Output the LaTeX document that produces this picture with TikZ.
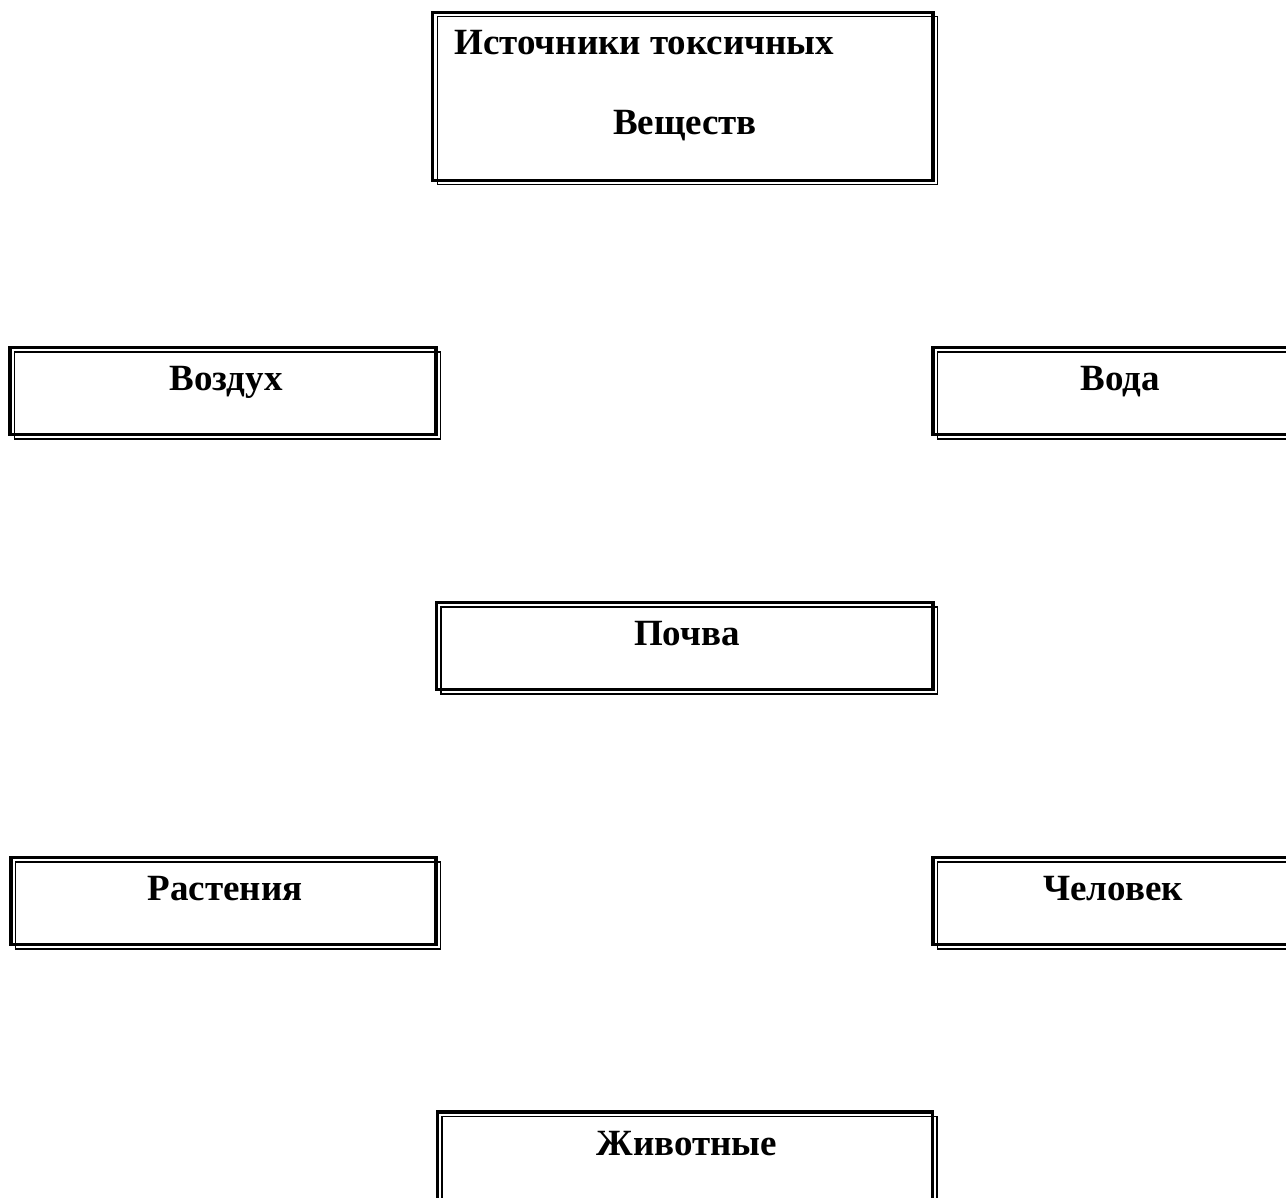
\documentclass[tikz,border=0pt]{standalone}
\usepackage{fontspec}
\setmainfont{Liberation Serif}
\begin{document}
\begin{tikzpicture}[x=0.5pt,y=-0.5pt,
		dick/.style={line width=1.9pt},
		duenn/.style={line width=0.85pt},
		schrift/.style={font=\fontsize{18.5}{22}\selectfont\bfseries,inner sep=0pt}]
		\clip (0,0) rectangle (1286,1198);
		% Источники
		\draw[dick] (432.5,12.5) rectangle (933,180.5);
		\draw[duenn] (437.5,16.5) rectangle (937.5,184.5);
		\node[schrift,anchor=base west] (istochniki) at (454,55) {Источники токсичных};
		\node[schrift,anchor=base] (veshchestv) at (685,135) {Веществ};
		% Воздух
		\draw[dick] (10,347.5) rectangle (436,434.5);
		\draw[duenn] (14.5,352) rectangle (440.5,439);
		\node[schrift,anchor=base] (vozdukh) at (226,391) {Воздух};
		% Вода
		\draw[dick] (933,347.5) rectangle (1359,434.5);
		\draw[duenn] (937.5,352) rectangle (1363.5,439);
		\node[schrift,anchor=base] (voda) at (1120,391) {Вода};
		% Почва
		\draw[dick] (436.5,602.5) rectangle (933,689.5);
		\draw[duenn] (441,607) rectangle (937.5,694);
		\node[schrift,anchor=base] (pochva) at (687,645) {Почва};
		% Растения
		\draw[dick] (11,857.5) rectangle (436,944.5);
		\draw[duenn] (15.5,862) rectangle (440.5,949);
		\node[schrift,anchor=base] (rasteniya) at (225,900) {Растения};
		% Человек
		\draw[dick] (933,857.5) rectangle (1359,944.5);
		\draw[duenn] (937.5,862) rectangle (1363.5,949);
		\node[schrift,anchor=base] (chelovek) at (1113,900) {Человек};
		% Животные
		\draw[dick] (437.5,1112) rectangle (932.5,1205);
		\draw[duenn] (442,1116.5) rectangle (937,1210);
		\node[schrift,anchor=base] (zhivotnye) at (687,1155) {Животные};
\end{tikzpicture}
\end{document}
